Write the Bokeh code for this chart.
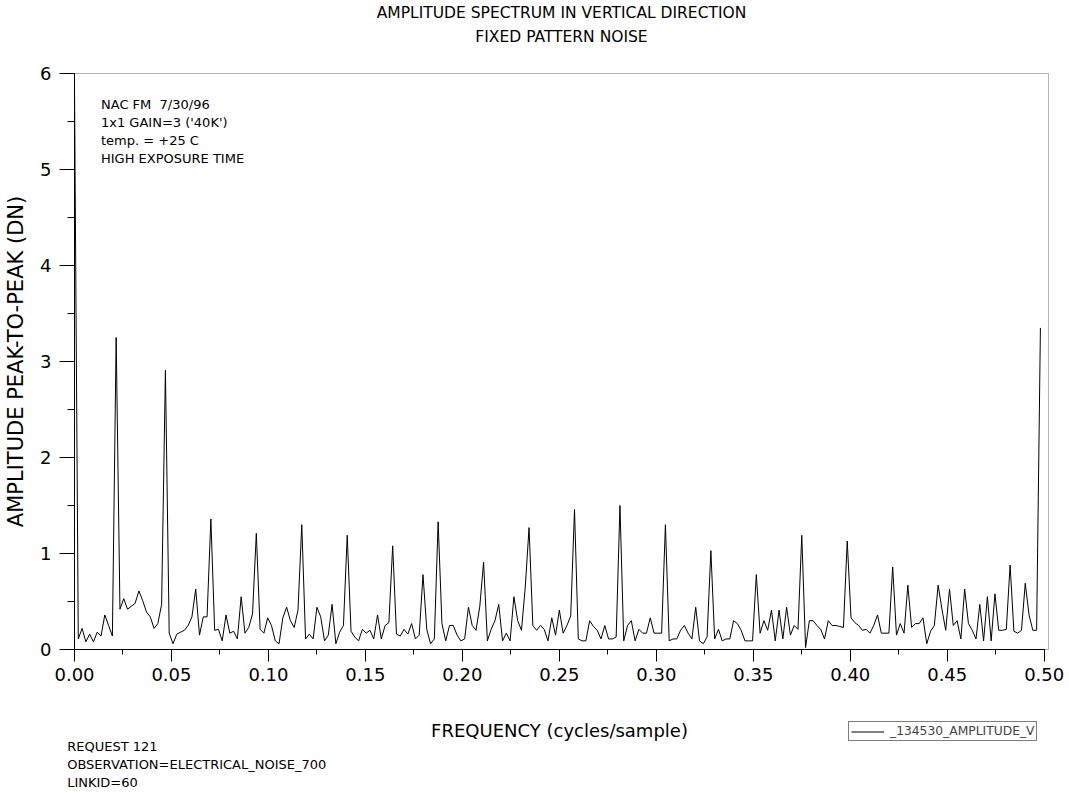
from bokeh.plotting import figure
from bokeh.models import Range1d, Label, BoxAnnotation, SingleIntervalTicker, NumeralTickFormatter
from bokeh.embed import file_html
from bokeh.resources import INLINE

# Frequency bins of the spectrum (cycles/sample)
n_bins = 256
freq = [k / 512 for k in range(n_bins)]

# Peak-to-peak amplitude (DN) per frequency bin
amplitude = [
    5.85, 0.11, 0.22, 0.08, 0.16, 0.08, 0.18, 0.14, 0.36, 0.25, 0.14, 3.25,
    0.42, 0.53, 0.42, 0.45, 0.48, 0.61, 0.51, 0.39, 0.34, 0.22, 0.27, 0.47,
    2.91, 0.17, 0.06, 0.16, 0.18, 0.20, 0.25, 0.34, 0.63, 0.15, 0.34, 0.34,
    1.36, 0.20, 0.21, 0.09, 0.36, 0.17, 0.19, 0.11, 0.55, 0.17, 0.23, 0.37,
    1.21, 0.21, 0.17, 0.33, 0.25, 0.09, 0.06, 0.33, 0.44, 0.30, 0.23, 0.41,
    1.30, 0.11, 0.16, 0.11, 0.44, 0.34, 0.09, 0.15, 0.47, 0.06, 0.18, 0.25,
    1.19, 0.19, 0.13, 0.09, 0.21, 0.17, 0.20, 0.11, 0.36, 0.11, 0.25, 0.28,
    1.08, 0.16, 0.14, 0.21, 0.16, 0.27, 0.11, 0.15, 0.78, 0.21, 0.06, 0.11,
    1.33, 0.27, 0.09, 0.25, 0.25, 0.15, 0.09, 0.11, 0.44, 0.25, 0.20, 0.45,
    0.91, 0.09, 0.21, 0.30, 0.47, 0.09, 0.17, 0.09, 0.55, 0.30, 0.20, 0.65,
    1.27, 0.25, 0.20, 0.25, 0.21, 0.09, 0.33, 0.15, 0.41, 0.17, 0.25, 0.35,
    1.46, 0.11, 0.09, 0.09, 0.30, 0.24, 0.20, 0.11, 0.25, 0.11, 0.11, 0.13,
    1.50, 0.09, 0.25, 0.30, 0.09, 0.21, 0.17, 0.17, 0.33, 0.17, 0.17, 0.17,
    1.30, 0.09, 0.11, 0.11, 0.20, 0.25, 0.17, 0.11, 0.44, 0.09, 0.06, 0.13,
    1.03, 0.11, 0.21, 0.09, 0.11, 0.11, 0.30, 0.27, 0.20, 0.09, 0.09, 0.09,
    0.78, 0.17, 0.30, 0.20, 0.41, 0.09, 0.41, 0.11, 0.44, 0.15, 0.25, 0.21,
    1.19, 0.02, 0.30, 0.30, 0.25, 0.21, 0.11, 0.30, 0.25, 0.25, 0.24, 0.23,
    1.13, 0.33, 0.28, 0.25, 0.20, 0.21, 0.17, 0.25, 0.36, 0.17, 0.17, 0.17,
    0.86, 0.15, 0.27, 0.17, 0.67, 0.23, 0.27, 0.27, 0.33, 0.06, 0.19, 0.25,
    0.67, 0.42, 0.20, 0.63, 0.25, 0.30, 0.11, 0.63, 0.27, 0.20, 0.11, 0.47,
    0.09, 0.55, 0.09, 0.58, 0.20, 0.20, 0.21, 0.88, 0.19, 0.17, 0.20, 0.69,
    0.36, 0.20, 0.20, 3.35,
]

series_name = "_134530_AMPLITUDE_V"
title_lines = ["AMPLITUDE SPECTRUM IN VERTICAL DIRECTION", "FIXED PATTERN NOISE"]
info_lines = ["NAC FM\u00a0 7/30/96", "1x1 GAIN=3 ('40K')", "temp. = +25 C", "HIGH EXPOSURE TIME"]
footer_lines = ["REQUEST 121", "OBSERVATION=ELECTRICAL_NOISE_700", "LINKID=60"]

FONT = "DejaVu Sans"
W, H = 1069, 793

# Page geometry: the drawing area covers the whole page and the axes sit at
# fixed data positions, so titles, notes and legend can live anywhere on it.
X0_PX, X_PER_UNIT = 74.0, 1939.4     # pixel of freq 0, pixels per cycle/sample
Y0_PX, Y_PER_UNIT = 649.0, 96.0      # pixel row of amplitude 0, pixels per DN
x_start = -X0_PX / X_PER_UNIT
x_end = x_start + W / X_PER_UNIT
y_end = Y0_PX / Y_PER_UNIT
y_start = y_end - H / Y_PER_UNIT

x_max = 0.5022   # right edge of the plot box
y_max = 6.0      # top edge of the plot box

p = figure(
    width=W, height=H,
    output_backend="svg", toolbar_location=None,
    x_range=Range1d(x_start, x_end), y_range=Range1d(y_start, y_end),
    min_border=0,
)
p.background_fill_color = "white"
p.border_fill_color = "white"
p.outline_line_color = None
p.xgrid.visible = False
p.ygrid.visible = False

# plot box
p.add_layout(BoxAnnotation(left=0, right=x_max, bottom=0, top=y_max,
                           fill_alpha=0, line_color="black", line_width=1))

# spectrum trace
p.line(freq, amplitude, line_color="black", line_width=1, legend_label=series_name)

# x axis along amplitude 0
xa = p.xaxis[0]
xa.fixed_location = 0
xa.bounds = (0, 0.5)
xa.ticker = SingleIntervalTicker(interval=0.05, num_minor_ticks=2)
xa.formatter = NumeralTickFormatter(format="0.00")
xa.major_tick_in = 0
xa.major_tick_out = 12
xa.minor_tick_in = 0
xa.minor_tick_out = 5
xa.major_label_standoff = 6
xa.major_label_text_font = FONT
xa.major_label_text_font_size = "18px"
xa.major_label_text_color = "black"
xa.axis_line_color = "black"
xa.major_tick_line_color = "black"
xa.minor_tick_line_color = "black"
xa.axis_label = "FREQUENCY (cycles/sample)"
xa.axis_label_text_font = FONT
xa.axis_label_text_font_size = "18px"
xa.axis_label_text_font_style = "normal"
xa.axis_label_text_color = "black"
xa.axis_label_standoff = 36

# y axis along frequency 0
ya = p.yaxis[0]
ya.fixed_location = 0
ya.bounds = (0, 6)
ya.ticker = SingleIntervalTicker(interval=1, num_minor_ticks=2)
ya.major_tick_in = 0
ya.major_tick_out = 15
ya.minor_tick_in = 0
ya.minor_tick_out = 7
ya.major_label_standoff = 8
ya.major_label_text_font = FONT
ya.major_label_text_font_size = "18px"
ya.major_label_text_color = "black"
ya.axis_line_color = "black"
ya.major_tick_line_color = "black"
ya.minor_tick_line_color = "black"
ya.axis_label = "AMPLITUDE PEAK-TO-PEAK (DN)"
ya.axis_label_text_font = FONT
ya.axis_label_text_font_size = "21px"
ya.axis_label_text_font_style = "normal"
ya.axis_label_text_color = "black"
ya.axis_label_standoff = 9

# legend box to the right of the x-axis label
lg = p.legend[0]
lg.location = (848, H - 741)
lg.border_line_color = "black"
lg.border_line_width = 1
lg.background_fill_alpha = 1
lg.padding = 2
lg.margin = 0
lg.spacing = 0
lg.glyph_width = 33
lg.glyph_height = 11
lg.label_height = 11
lg.label_standoff = 6
lg.label_text_font = FONT
lg.label_text_font_size = "12.3px"


def page_text(text, x_px, center_px, size, align="left"):
    """Place a line of text on the page, vertically centred on center_px."""
    p.add_layout(Label(
        x=x_px, y=H - center_px, x_units="screen", y_units="screen",
        text=text, text_align=align, text_baseline="middle",
        text_font=FONT, text_font_size=size, text_color="black",
    ))


# two-line title centred over the plot box
for i, line in enumerate(title_lines):
    page_text(line, (74 + 1048) / 2, 12.5 + 24 * i, "15.5px", align="center")

# acquisition notes in the upper left of the plot box
for i, line in enumerate(info_lines):
    page_text(line, 100.5, 103.5 + 18.3 * i, "13px")

# request info below the x axis
for i, line in enumerate(footer_lines):
    page_text(line, 66.7, 745.5 + 18.2 * i, "13px")

open("out.html", "w").write(file_html(p, INLINE))
